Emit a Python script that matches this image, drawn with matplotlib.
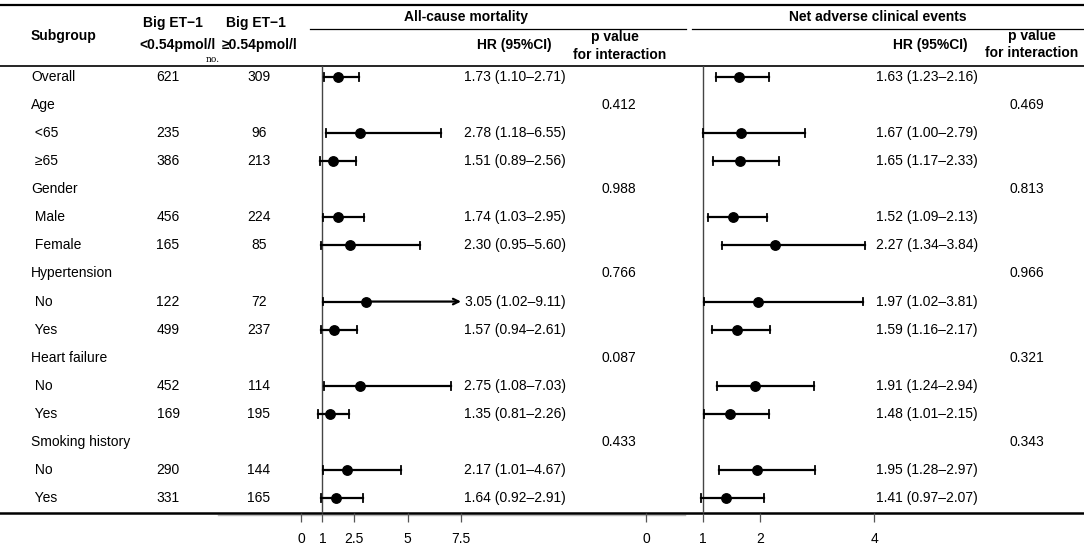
import numpy as np
import matplotlib
matplotlib.use('Agg')
import matplotlib.pyplot as plt

plt.rcParams['font.family'] = ['Liberation Sans', 'DejaVu Sans']

# table data
subgroups = ['Overall', 'Age', ' <65', ' \u226565', 'Gender', ' Male', ' Female',
             'Hypertension', ' No', ' Yes', 'Heart failure', ' No', ' Yes',
             'Smoking history', ' No', ' Yes']
n_low = [621, None, 235, 386, None, 456, 165, None, 122, 499, None, 452, 169, None, 290, 331]
n_high = [309, None, 96, 213, None, 224, 85, None, 72, 237, None, 114, 195, None, 144, 165]

nan = np.nan
# all-cause mortality
acm_hr = [1.73, nan, 2.78, 1.51, nan, 1.74, 2.30, nan, 3.05, 1.57, nan, 2.75, 1.35, nan, 2.17, 1.64]
acm_lo = [1.10, nan, 1.18, 0.89, nan, 1.03, 0.95, nan, 1.02, 0.94, nan, 1.08, 0.81, nan, 1.01, 0.92]
acm_hi = [2.71, nan, 6.55, 2.56, nan, 2.95, 5.60, nan, 9.11, 2.61, nan, 7.03, 2.26, nan, 4.67, 2.91]
acm_p = [None, '0.412', None, None, '0.988', None, None, '0.766', None, None,
         '0.087', None, None, '0.433', None, None]
# net adverse clinical events
nace_hr = [1.63, nan, 1.67, 1.65, nan, 1.52, 2.27, nan, 1.97, 1.59, nan, 1.91, 1.48, nan, 1.95, 1.41]
nace_lo = [1.23, nan, 1.00, 1.17, nan, 1.09, 1.34, nan, 1.02, 1.16, nan, 1.24, 1.01, nan, 1.28, 0.97]
nace_hi = [2.16, nan, 2.79, 2.33, nan, 2.13, 3.84, nan, 3.81, 2.17, nan, 2.94, 2.15, nan, 2.97, 2.07]
nace_p = [None, '0.469', None, None, '0.813', None, None, '0.966', None, None,
          '0.321', None, None, '0.343', None, None]

acm_ticks = [0, 1, 2.5, 5, 7.5]
acm_ticklabels = ['0', '1', '2.5', '5', '7.5']
nace_ticks = [0, 1, 2, 4]
nace_ticklabels = ['0', '1', '2', '4']

W, H = 1084, 552
ROW0, ROWH = 77, 28.07     # pixel y of first row, row height
TOP, BOT = 66, 513         # header bottom line / bottom line
FS = 10

fig = plt.figure(figsize=(W / 100, H / 100), dpi=100)
base = fig.add_axes([0, 0, 1, 1])
base.set_xlim(0, W)
base.set_ylim(H, 0)
base.axis('off')

# header lines
base.plot([0, W], [5, 5], color='black', lw=1.6)
base.plot([0, W], [TOP, TOP], color='black', lw=1.2)
base.plot([218, 685], [515, 515], color='#bbbbbb', lw=1.0)
base.plot([0, W], [BOT, BOT], color='black', lw=1.8)
base.plot([310, 686], [29, 29], color='black', lw=0.9)
base.plot([692, W], [29, 29], color='black', lw=0.9)

bold = dict(fontsize=FS, fontweight='bold', va='center')
base.text(31, 36, 'Subgroup', ha='left', **bold)
base.text(173, 23, 'Big ET\u22121', ha='center', **bold)
base.text(256, 23, 'Big ET\u22121', ha='center', **bold)
base.text(177, 45, '<0.54pmol/l', ha='center', **bold)
base.text(260, 45, '\u22650.54pmol/l', ha='center', **bold)
base.text(213, 60, 'no.', ha='center', va='center', fontsize=6.5, family='DejaVu Serif')
base.text(466, 17, 'All-cause mortality', ha='center', **bold)
base.text(878, 17, 'Net adverse clinical events', ha='center', **bold)
base.text(552, 45, 'HR (95%CI)', ha='right', **bold)
base.text(968, 45, 'HR (95%CI)', ha='right', **bold)
base.text(615, 37, 'p value', ha='center', **bold)
base.text(620, 55, 'for interaction', ha='center', **bold)
base.text(1032, 36, 'p value', ha='center', **bold)
base.text(1032, 53, 'for interaction', ha='center', **bold)

# table body
for i, name in enumerate(subgroups):
    y = ROW0 + ROWH * i
    base.text(31, y, name, ha='left', va='center', fontsize=FS)
    if n_low[i] is not None:
        base.text(168, y, str(n_low[i]), ha='center', va='center', fontsize=FS)
        base.text(259, y, str(n_high[i]), ha='center', va='center', fontsize=FS)
    if not np.isnan(acm_hr[i]):
        base.text(566, y, '%.2f (%.2f\u2013%.2f)' % (acm_hr[i], acm_lo[i], acm_hi[i]),
                  ha='right', va='center', fontsize=FS)
        base.text(978, y, '%.2f (%.2f\u2013%.2f)' % (nace_hr[i], nace_lo[i], nace_hi[i]),
                  ha='right', va='center', fontsize=FS)
    if acm_p[i]:
        base.text(619, y, acm_p[i], ha='center', va='center', fontsize=FS)
        base.text(1027, y, nace_p[i], ha='center', va='center', fontsize=FS)


def forest(x0, x1, xmax, hr, lo, hi, ticks, ticklabels):
    ax = fig.add_axes([x0 / W, (H - BOT) / H, (x1 - x0) / W, (BOT - TOP) / H])
    ax.set_xlim(0, xmax)
    ax.set_ylim((BOT - ROW0) / ROWH, (TOP - ROW0) / ROWH)
    ax.patch.set_visible(False)
    for s in ax.spines.values():
        s.set_visible(False)
    ax.set_yticks([])
    ax.set_xticks(ticks)
    ax.set_xticklabels(ticklabels, fontsize=FS)
    ax.tick_params(axis='x', direction='out', length=6.5, width=0.9, color='#555555', pad=7)
    ax.axvline(1, color='#444444', lw=1.0)
    cap = 0.135
    for i in range(len(hr)):
        if np.isnan(hr[i]):
            continue
        if hi[i] > xmax:
            ax.plot([lo[i], hr[i]], [i, i], color='black', lw=1.6)
            ax.annotate('', xy=(xmax, i), xytext=(hr[i], i),
                        arrowprops=dict(arrowstyle='->', lw=1.6, color='black',
                                        shrinkA=0, shrinkB=0))
        else:
            ax.plot([lo[i], hi[i]], [i, i], color='black', lw=1.6)
            ax.plot([hi[i], hi[i]], [i - cap, i + cap], color='black', lw=1.3, clip_on=False)
        ax.plot([lo[i], lo[i]], [i - cap, i + cap], color='black', lw=1.3, clip_on=False)
        ax.plot(hr[i], i, 'o', color='black', ms=6.8, clip_on=False)
    return ax


forest(301, 461, 7.5, acm_hr, acm_lo, acm_hi, acm_ticks, acm_ticklabels)
forest(646, 874, 4, nace_hr, nace_lo, nace_hi, nace_ticks, nace_ticklabels)

fig.savefig('out.png', dpi=100)
